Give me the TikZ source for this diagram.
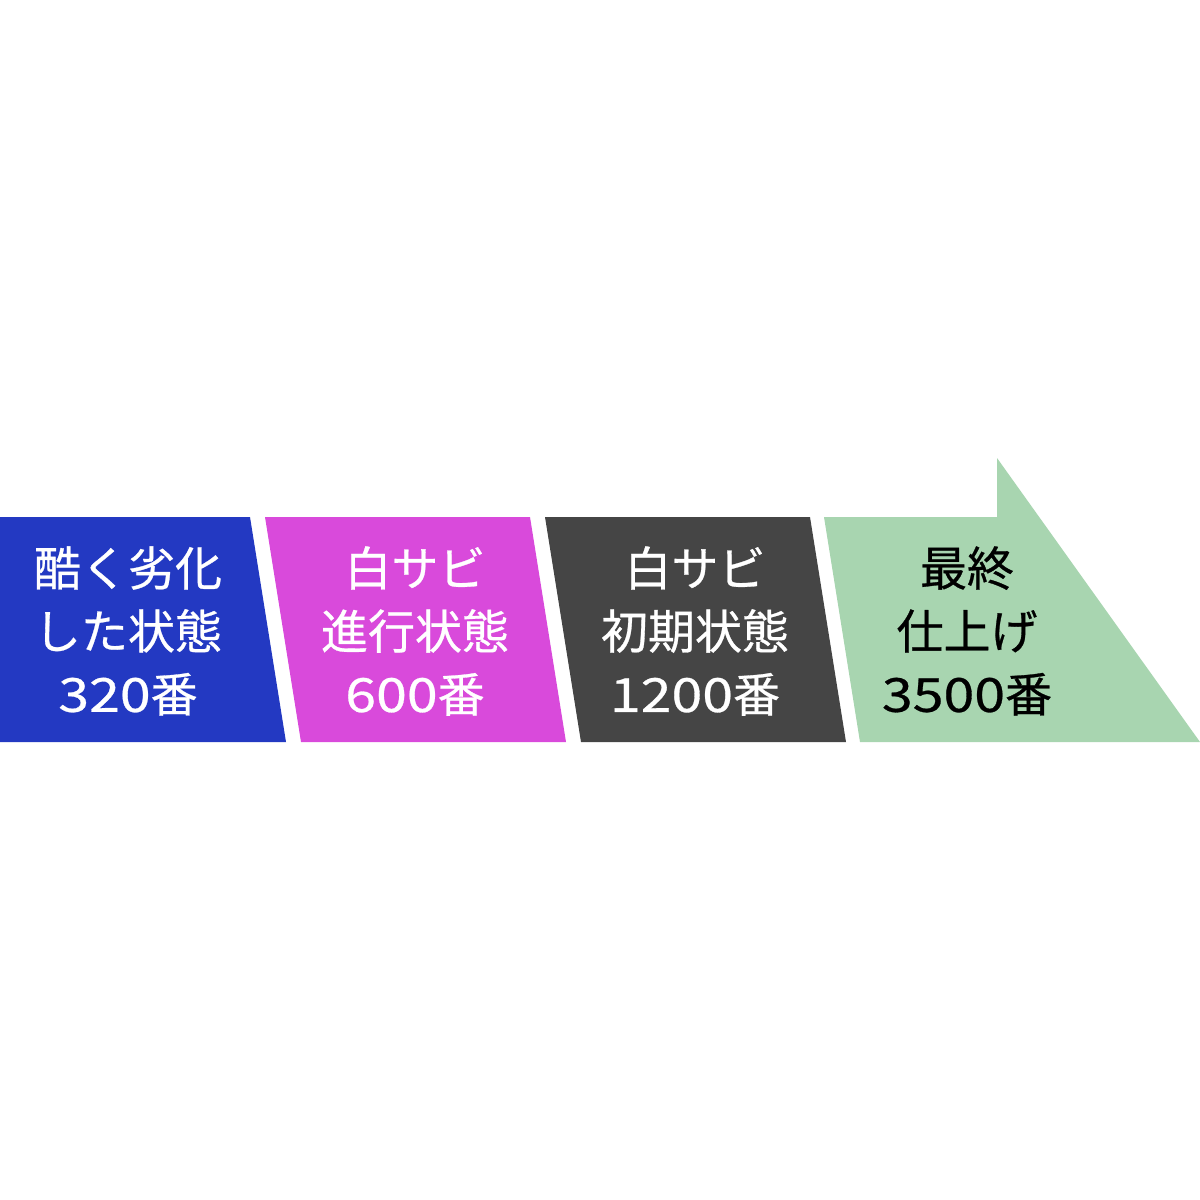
\documentclass[tikz,border=0pt]{standalone}
\usepackage{fontspec}
\newfontfamily\jp{Noto Sans CJK JP}[FakeBold=0.6]
\newcommand{\dg}[1]{{\addfontfeature{FakeStretch=1.18}#1}}
\definecolor{cblue}{HTML}{2339C2}
\definecolor{cmag}{HTML}{D94ADB}
\definecolor{cgray}{HTML}{454545}
\definecolor{cgreen}{HTML}{A8D5B0}
\tikzset{
  lbl/.style={align=center, inner sep=0pt, font=\jp\fontsize{47}{63}\selectfont},
  wlbl/.style={lbl, text=white},
  blbl/.style={lbl, text=black}
}
\begin{document}
\begin{tikzpicture}[x=1pt,y=-1pt]
\useasboundingbox (0,0) rectangle (1200,1200);
\fill[white] (0,0) rectangle (1200,1200);
\fill[cblue] (0,517) -- (250,517) -- (286,742) -- (0,742) -- cycle;
\fill[cmag] (265,517) -- (530,517) -- (566,742) -- (301,742) -- cycle;
\fill[cgray] (545,517) -- (810,517) -- (846,742) -- (581,742) -- cycle;
\fill[cgreen] (824,517) -- (997,517) -- (997,458) -- (1200,742) -- (860,742) -- cycle;
\node[wlbl] (s1) at (128,631) {酷く劣化\\した状態\\\dg{320}番};
\node[wlbl] (s2) at (415,631) {白サビ\\進行状態\\\dg{600}番};
\node[wlbl] (s3) at (695,631) {白サビ\\初期状態\\\dg{1200}番};
\node[blbl] (s4) at (967,631) {最終\\仕上げ\\\dg{3500}番};
\end{tikzpicture}
\end{document}
